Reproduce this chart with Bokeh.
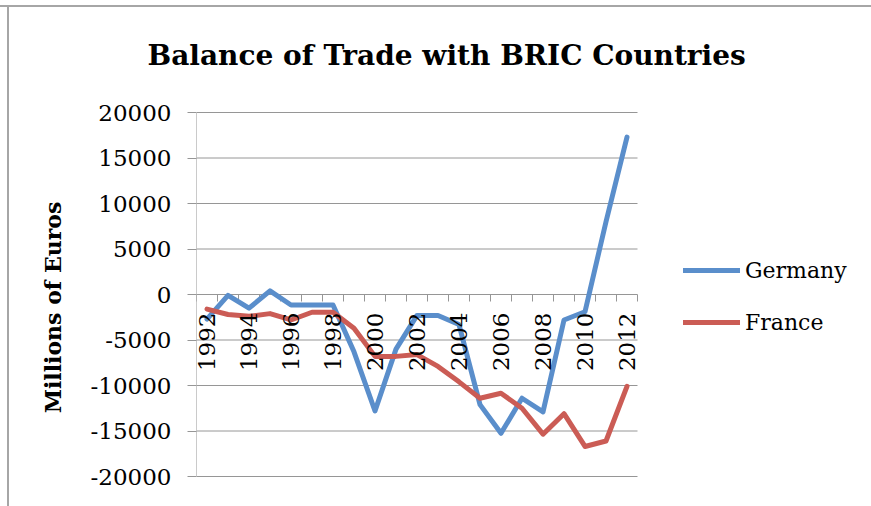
import math
from bokeh.plotting import figure
from bokeh.models import Range1d, FixedTicker, Legend, LegendItem, Title
from bokeh.core.properties import value
from bokeh.embed import file_html
from bokeh.resources import INLINE

# ---- data ----
years = list(range(1992, 2013))
germany = [-2700, -100, -1500, 400, -1150, -1150, -1150, -6300, -12800, -6000, -2300,
           -2300, -3300, -12100, -15250, -11400, -12900, -2800, -1900, 8000, 17300]
france = [-1600, -2200, -2400, -2100, -2800, -1950, -1950, -3700, -6800, -6800, -6600,
          -7900, -9600, -11400, -10850, -12500, -15350, -13100, -16700, -16100, -10100]
label_years = [1992, 1994, 1996, 1998, 2000, 2002, 2004, 2006, 2008, 2010, 2012]
label_texts = [str(y) for y in label_years]
y_ticks = [-20000, -15000, -10000, -5000, 0, 5000, 10000, 15000, 20000]
y_tick_labels = ["-20000", "-15000", "-10000", "-5000", "0", "5000", "10000", "15000", "20000"]
series_names = ["Germany", "France"]
title_text = "Balance of Trade with BRIC Countries"
y_title = "Millions of Euros"

BLUE = "#5A8ECB"
RED = "#CB5C55"
GRID = "#969696"
BORDER = "#a6a6a6"

# ---- layout (pixels) ----
W, H = 871, 506
LEFT = 196                      # plot-area left edge
FRAME_TOP = 108                 # top of Bokeh's frame
AREA_TOP = 112                  # where the 20000 gridline sits
AREA_W, AREA_H = 441, 364       # width / height of the category area
AREA_BOTTOM = AREA_TOP + AREA_H

x_lo, x_hi = years[0] - 0.5, years[-1] + 0.5
y_lo, y_hi = y_ticks[0], y_ticks[-1]
ux = (x_hi - x_lo) / AREA_W     # data units per pixel
uy = (y_hi - y_lo) / AREA_H

title = Title(text=title_text, align="left", offset=-49, standoff=73,
              text_font="DejaVu Serif", text_font_style="bold",
              text_font_size="28px", text_color="black")

p = figure(width=W, height=H, output_backend="svg", toolbar_location=None,
           title=title,
           x_range=Range1d(x_lo, x_lo + (W - LEFT) * ux),
           y_range=Range1d(y_lo - (H - AREA_BOTTOM) * uy, y_hi + (AREA_TOP - FRAME_TOP) * uy),
           x_axis_location=None,
           min_border_left=LEFT, min_border_right=0, min_border_top=FRAME_TOP, min_border_bottom=0)
p.outline_line_color = None
p.background_fill_color = "white"
p.border_fill_alpha = 0
p.styles = {
    "background": (f"linear-gradient({BORDER},{BORDER}) 0px 5px / 100% 2px no-repeat, "
                   f"linear-gradient({BORDER},{BORDER}) 7px 5px / 2px 100% no-repeat, white")
}
p.xgrid.visible = False
p.ygrid.visible = False

# y axis (ticks + labels from Bokeh; its line drawn below over the category area only)
yax = p.yaxis[0]
yax.ticker = FixedTicker(ticks=y_ticks)
yax.major_label_overrides = {t: s for t, s in zip(y_ticks, y_tick_labels)}
yax.axis_line_color = None
yax.major_tick_line_color = GRID
yax.major_tick_out = 9
yax.major_tick_in = 0
yax.minor_tick_line_color = None
yax.major_label_standoff = 16
yax.major_label_text_font = "DejaVu Serif"
yax.major_label_text_font_size = "23px"
yax.major_label_text_color = "black"
yax.axis_label = y_title
yax.axis_label_text_font = "DejaVu Serif"
yax.axis_label_text_font_style = "bold"
yax.axis_label_text_font_size = "22px"
yax.axis_label_text_color = "black"
yax.axis_label_standoff = 22

# horizontal gridlines (incl. the zero line / category axis)
n = len(y_ticks)
p.segment(x0=[x_lo] * n, y0=y_ticks, x1=[x_hi] * n, y1=y_ticks, line_color=GRID, line_width=1)
# vertical value-axis line
p.segment(x0=[x_lo], y0=[y_lo], x1=[x_lo], y1=[y_hi], line_color=GRID, line_width=1)
# tick marks between categories on the zero line
boundaries = [y - 0.5 for y in years] + [years[-1] + 0.5]
nb = len(boundaries)
p.segment(x0=boundaries, y0=[0] * nb, x1=boundaries, y1=[-7 * uy] * nb, line_color=GRID, line_width=1)

# lines
r1 = p.line(years, germany, line_color=BLUE, line_width=5, line_join="round", line_cap="round")
r2 = p.line(years, france, line_color=RED, line_width=5, line_join="round", line_cap="round")

# vertical year labels below the zero line
p.text(x=label_years, y=[0] * len(label_years), text=label_texts, angle=math.pi / 2,
       text_align="right", text_baseline="middle", y_offset=18,
       text_font=value("DejaVu Serif"), text_font_size="23px", text_color="black")

# legend (inside the extended plot area, to the right of the categories)
legend = Legend(items=[LegendItem(label=series_names[0], renderers=[r1]),
                       LegendItem(label=series_names[1], renderers=[r2])],
                location=(683 - LEFT, H - 335), orientation="vertical")
legend.margin = 0
legend.glyph_width = 57
legend.glyph_height = 26
legend.label_height = 26
legend.spacing = 26
legend.padding = 10
legend.label_standoff = 5
legend.label_text_font = "DejaVu Serif"
legend.label_text_font_size = "22px"
legend.label_text_color = "black"
legend.border_line_color = None
legend.background_fill_alpha = 0
p.add_layout(legend)

open("out.html", "w").write(file_html(p, INLINE))
